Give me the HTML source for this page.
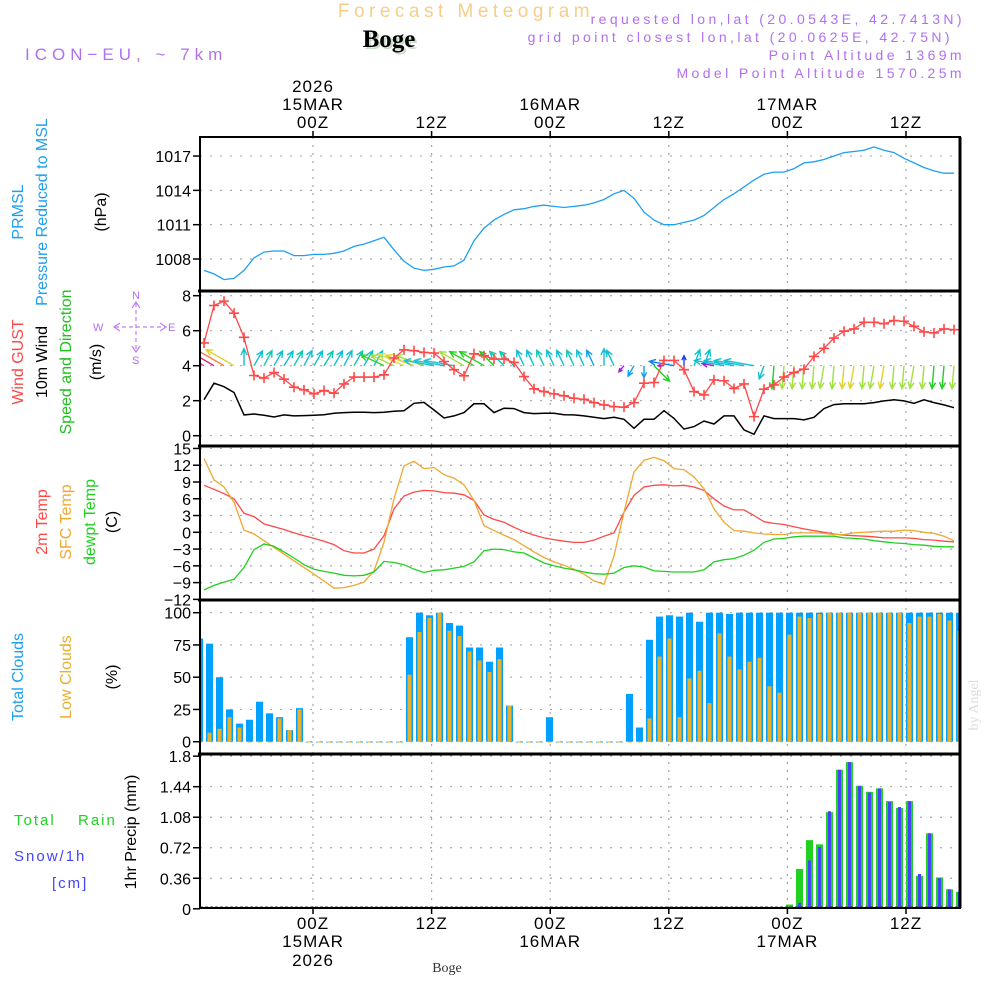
<!DOCTYPE html>
<html><head><meta charset="utf-8"><style>
html,body{margin:0;padding:0;background:#fff;width:1000px;height:1000px;overflow:hidden}
svg text{font-family:"Liberation Sans",sans-serif}
</style></head><body>
<svg id="c" width="1000" height="1000" viewBox="0 0 1000 1000" xmlns="http://www.w3.org/2000/svg">
<defs>
<clipPath id="cpP"><rect x="200" y="137" width="760" height="154"/></clipPath>
<clipPath id="cpW"><rect x="200" y="291" width="760" height="155"/></clipPath>
<clipPath id="cpT"><rect x="200" y="446" width="760" height="154"/></clipPath>
<clipPath id="cpC"><rect x="200" y="600" width="760" height="154"/></clipPath>
<clipPath id="cpR"><rect x="200" y="754" width="760" height="154"/></clipPath>
</defs>
<text x="466" y="17" text-anchor="middle" font-size="19" fill="#f5cf8a" letter-spacing="4.5">Forecast Meteogram</text>
<text x="391" y="49" text-anchor="middle" font-size="25" font-weight="bold" fill="#c8dcc8" style="font-family:'Liberation Serif',serif">Boge</text>
<text x="389" y="47" text-anchor="middle" font-size="25" font-weight="bold" fill="#000" style="font-family:'Liberation Serif',serif">Boge</text>
<text x="25" y="60" font-size="17" fill="#b070f0" letter-spacing="5">ICON−EU, ~ 7km</text>
<g font-size="14" fill="#b070f0" text-anchor="end" letter-spacing="3.4">
<text x="965" y="24">requested lon,lat (20.0543E, 42.7413N)</text>
<text x="953" y="42">grid point closest lon,lat (20.0625E, 42.75N)</text>
<text x="965" y="60">Point Altitude 1369m</text>
<text x="965" y="78">Model Point Altitude 1570.25m</text>
</g>
<text x="978" y="705" font-size="14" fill="#dcdcdc" transform="rotate(-90 978 705)" text-anchor="middle" style="font-family:'Liberation Serif',serif">by Angel</text>
<g id="labels" font-size="16"></g>
<g id="plot"></g>
</svg>
<script>
// ---- data ----
const pressure=[1007.0,1006.7,1006.2,1006.3,1007.0,1008.1,1008.6,1008.7,1008.7,1008.3,1008.3,1008.4,1008.4,1008.5,1008.7,1009.1,1009.3,1009.6,1009.9,1008.8,1007.8,1007.2,1007.0,1007.1,1007.3,1007.4,1007.9,1009.6,1010.7,1011.4,1011.9,1012.3,1012.4,1012.6,1012.7,1012.6,1012.5,1012.6,1012.7,1012.9,1013.2,1013.7,1014.0,1013.3,1012.1,1011.4,1011.0,1011.0,1011.2,1011.4,1011.8,1012.5,1013.2,1013.7,1014.3,1014.9,1015.4,1015.6,1015.6,1015.9,1016.4,1016.5,1016.7,1017.0,1017.3,1017.4,1017.5,1017.8,1017.5,1017.3,1016.8,1016.4,1016.0,1015.7,1015.5,1015.5];
const wind10m=[2.05,3.0,2.8,2.47,1.19,1.24,1.17,1.07,1.19,1.13,1.15,1.17,1.2,1.28,1.32,1.34,1.34,1.32,1.34,1.4,1.43,1.85,1.9,1.47,1.01,1.13,1.32,1.82,1.82,1.32,1.57,1.55,1.32,1.26,1.28,1.28,1.2,1.19,1.13,1.05,0.98,1.05,0.94,0.42,0.94,0.94,1.43,0.99,0.38,0.52,0.84,0.67,1.13,1.13,0.33,0.08,1.13,0.98,0.98,0.98,0.9,1.05,1.55,1.78,1.82,1.82,1.82,1.89,1.99,2.05,1.99,1.85,2.05,1.89,1.76,1.6];
const windGust=[5.3,7.44,7.69,7.0,5.62,3.44,3.29,3.61,3.23,2.77,2.62,2.39,2.58,2.43,2.96,3.35,3.35,3.35,3.48,4.44,4.91,4.86,4.76,4.72,4.24,3.77,3.42,4.68,4.57,4.38,4.38,4.19,3.38,2.68,2.52,2.39,2.28,2.14,2.08,1.89,1.76,1.66,1.63,1.89,3.0,3.04,4.3,4.3,3.77,2.52,2.33,3.19,3.14,2.7,2.96,1.09,2.66,2.9,3.35,3.61,3.8,4.53,4.99,5.58,5.97,6.1,6.48,6.48,6.4,6.58,6.54,6.25,5.93,5.87,6.1,6.06];
const windDir=[300,300,300,300,0,30,28,30,32,30,28,30,32,30,28,30,30,30,-65,-65,-65,-70,-70,-80,-80,-80,-60,-60,-60,-45,-45,-45,-25,-25,-25,-25,-25,-25,-25,-25,0,-25,220,210,180,135,270,280,0,20,20,280,280,280,280,280,200,185,185,185,185,185,190,185,185,190,185,190,190,185,185,190,185,185,185,185];
const windLen=[40,38,36,32,17,17,17,17,17,17,17,17,17,17,17,17,17,17,25,25,28,30,30,30,30,30,28,28,28,20,20,20,17,17,17,17,17,17,17,17,17,17,8,12,12,22,6,25,10,17,17,12,30,30,30,30,14,23,23,23,23,23,23,23,23,23,23,23,23,23,23,23,23,23,23,23];
const windColor=["#f040a0","#e02080","#f08030","#e0d030","#10c0d0","#10c0d0","#10c8b0","#10c0d0","#10c0d0","#10c8b0","#10c0d0","#10c0d0","#10c8b0","#10c0d0","#10c0d0","#10c8b0","#10c0d0","#10c0d0","#30d030","#a0e040","#e0e040","#e0d030","#a0e040","#20c0d0","#20c0d0","#20c0d0","#a0e040","#20d020","#20d020","#20d020","#10c8b0","#10c8b0","#10c0d0","#10c0d0","#10c8b0","#10c0d0","#10c0d0","#10c8b0","#10c0d0","#10a0f0","#10c0d0","#10c0d0","#a020e0","#10a0f0","#10a0f0","#20d020","#a020e0","#1080f0","#2040f0","#10c0d0","#10c0d0","#a020e0","#10c0d0","#10c0d0","#10c0d0","#10c0d0","#10c0d0","#20d020","#a0e040","#a0e040","#a0e040","#a0e040","#a0e040","#a0e040","#e0d030","#e0d030","#a0e040","#a0e040","#e0d030","#a0e040","#a0e040","#a0e040","#a0e040","#20d020","#20d020","#a0e040"];
const temp2m=[8.4,7.7,6.9,6.0,3.4,2.8,1.5,1.0,0.5,-0.1,-0.6,-1.1,-1.6,-2.2,-3.3,-3.7,-3.7,-3.0,-0.6,4.2,6.5,7.2,7.5,7.4,7.1,7.0,6.7,5.7,3.1,2.3,1.8,0.9,0.1,-0.5,-1.0,-1.3,-1.6,-1.8,-1.8,-1.4,-0.7,-0.1,3.6,6.6,8.1,8.4,8.5,8.3,8.4,8.1,7.5,6.0,4.7,4.0,4.0,3.0,1.9,1.6,1.4,1.0,0.6,0.3,0,-0.3,-0.5,-0.6,-0.7,-0.8,-1.0,-1.0,-1.0,-1.1,-1.3,-1.4,-1.6,-1.7];
const tempSfc=[13.2,9.4,8.1,5.4,0.4,-0.3,-1.5,-2.7,-3.9,-5.1,-6.3,-7.5,-8.7,-10.0,-9.9,-9.5,-8.9,-6.9,-1.8,6.0,11.9,12.7,11.4,11.6,10.3,9.7,8.5,5.7,1.2,0.3,-0.5,-1.3,-2.4,-3.5,-4.5,-5.3,-5.9,-6.6,-7.5,-8.7,-9.3,-4.2,3.6,10.8,12.9,13.4,12.8,11.4,11.2,9.9,7.8,4.2,1.8,0.3,0.2,-0.1,-0.3,-0.4,-0.4,-0.1,-0.1,-0.1,-0.2,-0.4,-0.4,-0.1,0,0.1,0.2,0.2,0.4,0.3,0,-0.2,-0.7,-1.5];
const tempDew=[-10.3,-9.5,-8.9,-8.4,-6.3,-3.1,-2.1,-2.5,-3.5,-4.6,-5.8,-6.6,-7.0,-7.3,-7.7,-7.8,-7.7,-7.1,-5.2,-5.4,-5.8,-6.6,-7.2,-6.8,-6.7,-6.4,-6.1,-5.3,-3.3,-3.0,-3.1,-3.5,-3.7,-4.6,-5.5,-6.0,-6.4,-6.7,-7.1,-7.4,-7.5,-7.3,-6.3,-6.0,-6.2,-6.9,-7.0,-7.1,-7.1,-7.1,-6.7,-5.3,-4.9,-4.7,-4.1,-3.2,-1.8,-1.2,-1.1,-0.8,-0.7,-0.7,-0.7,-0.7,-1.0,-1.1,-1.2,-1.5,-1.7,-1.9,-2.0,-2.2,-2.3,-2.5,-2.6,-2.6];
const cloudTotal=[80,76,50,25,14,17,31,22,19,9,26,0,0,0,0,0,0,0,0,0,0,81,100,98,100,92,90,73,73,62,73,28,0,0,0,19,0,0,0,0,0,0,0,37,11,79,97,98,97,100,93,100,100,99,100,100,100,100,100,100,100,100,100,100,100,100,100,100,100,100,100,100,100,100,100,100,100];
const cloudLow=[0,7,10,19,11,0,0,0,18,9,25,0,0,0,0,0,0,0,0,0,0,52,85,96,100,86,82,70,63,54,64,28,0,0,0,0,0,0,0,0,0,0,0,0,0,18,66,80,19,49,55,30,84,66,56,62,65,43,38,83,97,96,99,100,100,100,100,100,100,100,100,92,97,97,99,94,86];
const precipTotal=[0,0,0,0,0,0,0,0,0,0,0,0,0,0,0,0,0,0,0,0,0,0,0,0,0.01,0,0,0,0,0,0,0,0,0,0,0,0,0,0,0,0,0,0,0,0,0,0,0,0,0,0,0,0,0,0,0,0,0,0,0.05,0.47,0.81,0.76,1.14,1.64,1.73,1.45,1.38,1.42,1.27,1.19,1.27,0.39,0.89,0.37,0.23,0.2];
const precipSnow=[0,0,0,0,0,0,0,0,0,0,0,0,0,0,0,0,0,0,0,0,0,0,0,0,0,0,0,0,0,0,0,0,0,0,0,0,0,0,0,0,0,0,0,0,0,0,0,0,0,0,0,0,0,0,0,0,0,0,0,0,0.07,0.57,0.73,1.15,1.64,1.73,1.45,1.37,1.42,1.26,1.2,1.27,0.41,0.89,0.36,0.23,0.2];
const pTicks=[1008,1011,1014,1017];
const wTicks=[0,2,4,6,8];
const tTicks=[15,12,9,6,3,0,-3,-6,-9,-12];
const cTicks=[0,25,50,75,100];
const rTicks=[0,0.36,0.72,1.08,1.44,1.8];
const timeHours=[0,12,24,36,48,60];
const timeHourLabels=["00Z","12Z","00Z","12Z","00Z","12Z"];
const timeDayLabels=["15MAR","","16MAR","","17MAR",""];
const timeYearLabels=["2026","","","","",""];

// ---- scales ----
const X0=200,X1=960;
const xi=i=>204+10*i;
const xb=k=>199.5+10*k;
const xh=h=>313+h*118.6/12;
const yP=v=>259-(v-1008)*11.44;
const yW=v=>435.7-v*17.5;
const yT=v=>532.3-v*5.59;
const yC=v=>741.7-v*1.29;
const yR=v=>908.8-v*84.8;

const NS="http://www.w3.org/2000/svg";
const plot=document.getElementById('plot');
const labels=document.getElementById('labels');
function mk(tag,attrs,parent){const e=document.createElementNS(NS,tag);for(const k in attrs)e.setAttribute(k,attrs[k]);(parent||plot).appendChild(e);return e;}
function grp(clip){const g=document.createElementNS(NS,'g');if(clip)g.setAttribute('clip-path','url(#'+clip+')');plot.appendChild(g);return g;}

const panels=[
 {top:137,bot:291,ticks:pTicks,y:yP,fmt:v=>String(v),clip:'cpP',name:'pressure'},
 {top:291,bot:446,ticks:wTicks,y:yW,fmt:v=>String(v),clip:'cpW',name:'wind'},
 {top:446,bot:600,ticks:tTicks,y:yT,fmt:v=>v<0?'−'+(-v):String(v),clip:'cpT',name:'temperature'},
 {top:600,bot:754,ticks:cTicks,y:yC,fmt:v=>String(v),clip:'cpC',name:'clouds'},
 {top:754,bot:908,ticks:rTicks,y:yR,fmt:v=>String(v),clip:'cpR',name:'precip'}
];
panels.forEach(p=>{
 const g=grp(p.clip);
 
 
 p.ticks.forEach(t=>{const yy=p.y(t);if(yy>p.top+2&&yy<p.bot-2){const l=mk('line',{x1:X0,x2:X1,y1:yy,y2:yy,stroke:'#a8a8a8','stroke-width':1.2,'stroke-dasharray':'2,8'},g);}});
 timeHours.forEach(h=>{const l=mk('line',{x1:xh(h),x2:xh(h),y1:p.top,y2:p.bot,stroke:'#a8a8a8','stroke-width':1.2,'stroke-dasharray':'2,6'},g);});
 const ag=grp();
 
 
 p.ticks.forEach(t=>{const yy=p.y(t);mk('line',{x1:193,x2:200,y1:yy,y2:yy,stroke:'#000','stroke-width':1.5},ag);
  const tx=mk('text',{x:191,y:yy+6,'text-anchor':'end','font-size':16,fill:'#000'},ag);tx.textContent=p.fmt(t);
  });
});

function line(arr,y,color,clip,name,w){const g=grp(clip);const d=arr.map((v,i)=>(i?'L':'M')+xi(i).toFixed(1)+','+y(v).toFixed(1)).join('');const p=mk('path',{d:d,fill:'none',stroke:color,'stroke-width':w||1.3},g);return g;}
line(pressure,yP,'#1ea0f0','cpP','pressure-line');

const wa=grp('cpW');


windDir.forEach((d,i)=>{
 const bx=xi(i),by=yW(4),r=d*Math.PI/180,L=windLen[i];
 const ex=bx+L*Math.sin(r),ey=by-L*Math.cos(r);
 const a1=r+Math.PI-0.45,a2=r+Math.PI+0.45,h=Math.min(7,L*0.5);
 const p=mk('path',{d:`M${bx},${by}L${ex},${ey}M${ex+h*Math.sin(a1)},${ey-h*Math.cos(a1)}L${ex},${ey}L${ex+h*Math.sin(a2)},${ey-h*Math.cos(a2)}`,fill:'none',stroke:windColor[i],'stroke-width':1.4},wa);
 
 
});
line(wind10m,yW,'#000','cpW','wind-10m-line',1.5);
const gg=line(windGust,yW,'#ff4848','cpW','wind-gust-line',1.3);
windGust.forEach((v,i)=>{const x=xi(i),y=yW(v);const m=mk('path',{d:`M${x-5},${y}H${x+5}M${x},${y-5}V${y+5}`,stroke:'#ff4848','stroke-width':1.6},gg);});

line(temp2m,yT,'#ff4848','cpT','temp-2m-line');
line(tempSfc,yT,'#f0a830','cpT','temp-sfc-line');
line(tempDew,yT,'#20d020','cpT','dewpoint-line');

const cg=grp('cpC');


cloudTotal.forEach((v,k)=>{const x=xb(k);
 const b=mk('rect',{x:x-3.5,y:yC(v),width:7,height:Math.max(0.8,yC(0)-yC(v)),fill:'#00a0ff'},cg);
 const l=mk('rect',{x:x-2,y:yC(cloudLow[k]),width:4,height:Math.max(0.8,yC(0)-yC(cloudLow[k])),fill:'#e8b030'},cg);
});

const rg=grp('cpR');


precipTotal.forEach((v,k)=>{const x=xb(k);
 if(v>0){const b=mk('rect',{x:x-3.5,y:yR(v),width:7,height:yR(0)-yR(v),fill:'#22d022'},rg);}
 const s=precipSnow[k];if(s>0){const b=mk('rect',{x:x-1.5,y:yR(s),width:3,height:yR(0)-yR(s),fill:'#4444ff'},rg);}
});
const zl=mk('line',{x1:X0,x2:X1,y1:907,y2:907,stroke:'#444','stroke-width':1,'stroke-dasharray':'3,2'});



const fg=grp();


mk('rect',{x:200,y:137,width:760,height:771,fill:'none',stroke:'#000','stroke-width':2},fg);
[291,446,600,754].forEach(y=>mk('line',{x1:198,x2:961,y1:y,y2:y,stroke:'#000','stroke-width':3},fg));
mk('line',{x1:960,x2:960,y1:137,y2:908,stroke:'#000','stroke-width':3},fg);

const tg=grp();


timeHours.forEach((h,j)=>{const x=xh(h);
 mk('line',{x1:x,x2:x,y1:131,y2:137,stroke:'#000','stroke-width':1.5},tg);
 mk('line',{x1:x,x2:x,y1:908,y2:914,stroke:'#000','stroke-width':1.5},tg);
 const put=(txt,y)=>{if(!txt)return;const t=mk('text',{x:x,y:y,'text-anchor':'middle','font-size':17,fill:'#000','letter-spacing':1},tg);t.textContent=txt;};
 put(timeHourLabels[j],128);put(timeDayLabels[j],110);put(timeYearLabels[j],92);
 put(timeHourLabels[j],929);put(timeDayLabels[j],947);put(timeYearLabels[j],966);
});
const bl=mk('text',{x:447,y:972,'text-anchor':'middle','font-size':14,fill:'#333',style:"font-family:'Liberation Serif',serif"});
bl.textContent='Boge';



function vlab(txt,x,y,color,name,fs){const t=mk('text',{x:x,y:y,'text-anchor':'middle','font-size':fs||16,fill:color,transform:`rotate(-90 ${x} ${y})`},labels);t.textContent=txt;}
function hlab(txt,x,y,color,name,fs,ls){const t=mk('text',{x:x,y:y,'font-size':fs||16,fill:color,'letter-spacing':ls||0},labels);t.textContent=txt;}
vlab('PRMSL',23,212,'#1ea0f0','prmsl-label');
vlab('Pressure Reduced to MSL',47,212,'#1ea0f0','pressure-label');
vlab('(hPa)',106,212,'#000','pressure-unit');
vlab('Wind GUST',23,362,'#ff4848','gust-label');
vlab('10m Wind',47,362,'#000','wind-label');
vlab('Speed and Direction',71,362,'#20c020','wind-dir-label');
vlab('(m/s)',101,362,'#000','wind-unit');
// compass
const cp=grp();


mk('path',{d:'M115,327H165M136,303V352',stroke:'#c080f0','stroke-width':1.2,'stroke-dasharray':'4,3',fill:'none'},cp);
mk('path',{d:'M120,323L114,327L120,331M160,323L166,327L160,331M132,308L136,302L140,308M132,346L136,352L140,346',stroke:'#c080f0','stroke-width':1.2,fill:'none'},cp);
hlab('W',93,331,'#b070f0','compass-w',11);
hlab('E',168,331,'#b070f0','compass-e',11);
hlab('N',132,299,'#b070f0','compass-n',11);
hlab('S',132,364,'#b070f0','compass-s',11);
vlab('2m Temp',47,522,'#ff4848','temp-2m-label');
vlab('SFC Temp',71,522,'#f0a830','temp-sfc-label');
vlab('dewpt Temp',95,522,'#20d020','dewpoint-label');
vlab('(C)',117,522,'#000','temp-unit');
vlab('Total Clouds',23,677,'#1ea0f0','total-clouds-label');
vlab('Low Clouds',71,677,'#e8b030','low-clouds-label');
vlab('(%)',117,677,'#000','clouds-unit');
hlab('Total',14,825,'#22d022','rain-label-1',15,2);
hlab('Rain',78,825,'#22d022','rain-label-2',15,2);
hlab('Snow/1h',14,861,'#4444ff','snow-label',15,2);
hlab('[cm]',52,888,'#4444ff','snow-unit',15,2);
vlab('1hr Precip (mm)',136,832,'#000','precip-label');
</script>
</body></html>
